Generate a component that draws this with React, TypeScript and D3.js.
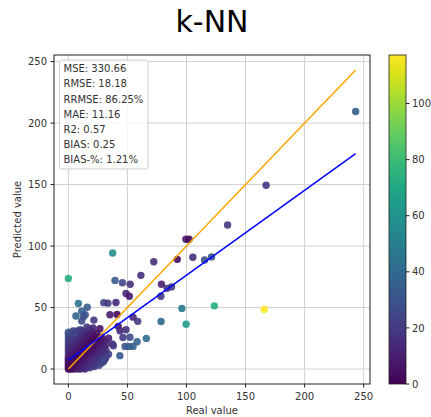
import React from 'react';
import * as d3 from 'd3';

// [real, predicted] – isolated points
const sparsePoints: [number, number][] = [
  [0, 73.6], [37.5, 94.4], [72.3, 87.2], [92.2, 89.2], [99.5, 105.5], [102.2, 105.5],
  [105.4, 90.9], [115.3, 88.7], [121.2, 91.2], [134.8, 117.1], [167.4, 149.4], [243.2, 209.4],
  [165.8, 48.5], [123.6, 51.4], [96.1, 49.3], [99.7, 36.5], [39.5, 72.1], [45.8, 70.2],
  [52.3, 69], [61.4, 76.2], [78.8, 69], [78.3, 59.2], [83.6, 65.6], [87.3, 66.8],
  [48.8, 61.5], [51.6, 59.2], [66, 24.9], [78.5, 38.7], [54.8, 42.2], [58.7, 38.8],
  [30, 54], [33.5, 53.6], [40.3, 54.1], [35.2, 44.2], [41.2, 44.4], [42.2, 34.7],
  [43.7, 31.2], [48.8, 31.9], [37.2, 20.5], [38.1, 18.9], [46.2, 25.7], [52.1, 25.8],
  [43.6, 10.9], [48, 18.4], [51.4, 18.4], [54.8, 18.4], [58.2, 22.2], [8.5, 53.3],
  [16, 50.3], [11.3, 47], [6.4, 43.1], [12.7, 42.5], [14.3, 44.1], [11.3, 39],
  [21.6, 39.8], [15.7, 34.1], [20.9, 33.5], [26.7, 32.8], [28.6, 14.6], [29.7, 5.9],
  [26.9, 16.2], [29.7, 15.2], [31.1, 8.1], [21.4, 6.5],
];

// dense cluster near the origin: [real, list of predicted values]
const clusterColumns: [number, number[]][] = [
  [0, [0, 2, 4, 6, 8, 10, 13, 16, 19, 22, 25, 28, 30]],
  [1, [1, 3, 5, 7, 9, 12, 15, 18, 21, 24, 27]],
  [2, [0, 2, 4, 6, 8, 11, 14, 17, 20, 23, 29]],
  [3, [1, 3, 5, 7, 10, 13, 16, 19, 22]],
  [4, [0, 2, 4, 6, 9, 12, 15, 18, 21, 25, 31]],
  [5, [1, 3, 5, 8, 11, 14, 17, 20, 24, 29]],
  [7, [0, 2, 4, 7, 10, 13, 16, 19, 22, 31]],
  [8, [3, 6, 9, 12, 15, 18, 21, 24]],
  [10, [0, 2, 5, 8, 11, 14, 17, 20, 23, 26, 29, 32]],
  [12, [1, 4, 7, 10, 13, 16, 19, 22, 25, 28, 31]],
  [14, [0, 3, 6, 9, 12, 15, 18, 21, 24, 27, 30]],
  [16, [2, 5, 8, 11, 14, 17, 20, 23, 26, 29]],
  [18, [1, 4, 7, 10, 13, 16, 19, 22, 25, 28, 32]],
  [20, [3, 6, 9, 12, 15, 18, 21, 24, 27, 30]],
  [22, [2, 5, 8, 11, 14, 17, 20, 23, 26]],
  [24, [4, 7, 10, 13, 16, 19, 22, 25, 29]],
  [26, [3, 6, 10, 13, 17, 20, 24]],
  [28, [5, 9, 12, 16, 21, 26]],
  [30, [7, 11, 18, 23]],
  [32, [10, 15, 20]],
  [34, [12, 25]],
];

const xTicks = [0, 50, 100, 150, 200, 250];
const yTicks = [0, 50, 100, 150, 200, 250];
const colorTicks = [0, 20, 40, 60, 80, 100];
const metricLabels = [
  'MSE: 330.66', 'RMSE: 18.18', 'RRMSE: 86.25%', 'MAE: 11.16', 'R2: 0.57', 'BIAS: 0.25', 'BIAS-%: 1.21%',
];
const fitSlope = 0.69;
const fitIntercept = 7.3;
const titleText = 'k-NN';
const xLabel = 'Real value';
const yLabel = 'Predicted value';

const FONT = 'DejaVu Sans, sans-serif';

export default function App() {
  const points: [number, number][] = [
    ...clusterColumns.flatMap(([r, ps]) => ps.map((p) => [r, p] as [number, number])),
    ...sparsePoints,
  ];
  const left = 54, right = 370, top = 55, bottom = 384;
  const realExt = d3.extent(points, (d) => d[0]) as [number, number];
  const span = realExt[1] - realExt[0];
  const dom: [number, number] = [realExt[0] - span * 0.05, realExt[1] + span * 0.05];
  const x = d3.scaleLinear().domain(dom).range([left, right]);
  const y = d3.scaleLinear().domain(dom).range([bottom, top]);
  const errs = points.map((d) => Math.abs(d[1] - d[0]));
  const maxErr = d3.max(errs) as number;
  const color = d3.scaleSequential(d3.interpolateViridis).domain([0, maxErr]);

  const cbLeft = 389, cbRight = 406;
  const cy = d3.scaleLinear().domain([0, maxErr]).range([bottom, top]);
  const stops = d3.range(0, 1.0001, 0.05);

  const lineGen = d3.line<[number, number]>().x((d) => x(d[0])).y((d) => y(d[1]));
  const idLine: [number, number][] = [[realExt[0], realExt[0]], [realExt[1], realExt[1]]];
  const fitLine: [number, number][] = [
    [realExt[0], fitIntercept + fitSlope * realExt[0]],
    [realExt[1], fitIntercept + fitSlope * realExt[1]],
  ];

  return (
    <svg width={431} height={417} style={{ position: 'absolute', left: 0, top: 0, background: '#fff' }}
      fontFamily={FONT}>
      <defs>
        <linearGradient id="vir" x1="0" y1="1" x2="0" y2="0">
          {stops.map((s) => (
            <stop key={s} offset={s} stopColor={d3.interpolateViridis(s)} />
          ))}
        </linearGradient>
        <clipPath id="plotClip">
          <rect x={left} y={top} width={right - left} height={bottom - top} />
        </clipPath>
      </defs>
      <text x={(left + right) / 2} y={32} textAnchor="middle" fontSize={30} fill="#000">{titleText}</text>

      {/* grid */}
      <g stroke="#d0d0d0" strokeWidth={1}>
        {xTicks.map((t) => (
          <line key={'gx' + t} x1={x(t)} x2={x(t)} y1={top} y2={bottom} />
        ))}
        {yTicks.map((t) => (
          <line key={'gy' + t} y1={y(t)} y2={y(t)} x1={left} x2={right} />
        ))}
      </g>

      <g clipPath="url(#plotClip)">
        {points.map((d, i) => (
          <circle key={i} cx={x(d[0])} cy={y(d[1])} r={3.7} fill={color(errs[i])} fillOpacity={0.9} />
        ))}
        <path d={lineGen(idLine) || ''} stroke="orange" strokeWidth={1.5} fill="none" />
        <path d={lineGen(fitLine) || ''} stroke="blue" strokeWidth={1.5} fill="none" />
      </g>

      {/* spines */}
      <rect x={left} y={top} width={right - left} height={bottom - top} fill="none" stroke="#222" strokeWidth={1} />

      {/* x ticks */}
      {xTicks.map((t) => (
        <g key={'xt' + t}>
          <line x1={x(t)} x2={x(t)} y1={bottom} y2={bottom + 3.5} stroke="#222" />
          <text x={x(t)} y={400} textAnchor="middle" fontSize={10} fill="#333">{t}</text>
        </g>
      ))}
      {yTicks.map((t) => (
        <g key={'yt' + t}>
          <line x1={left - 3.5} x2={left} y1={y(t)} y2={y(t)} stroke="#222" />
          <text x={47} y={y(t) + 3.6} textAnchor="end" fontSize={10} fill="#333">{t}</text>
        </g>
      ))}
      <text x={(left + right) / 2} y={414} textAnchor="middle" fontSize={10} fill="#333">{xLabel}</text>
      <text transform={`translate(21,${(top + bottom) / 2}) rotate(-90)`} textAnchor="middle" fontSize={10} fill="#333">{yLabel}</text>

      {/* metrics box */}
      <rect x={59.5} y={60} width={88.5} height={109} rx={2.5} fill="#fff" fillOpacity={0.8} stroke="#cccccc" />
      {metricLabels.map((m, i) => (
        <text key={m} x={63.5} y={72.3 + i * 15.17} fontSize={10} fill="#333">{m}</text>
      ))}

      {/* colorbar */}
      <rect x={cbLeft} y={top} width={cbRight - cbLeft} height={bottom - top} fill="url(#vir)" stroke="#222" strokeWidth={0.8} />
      {colorTicks.map((t) => (
        <g key={'ct' + t}>
          <line x1={cbRight} x2={cbRight + 3.5} y1={cy(t)} y2={cy(t)} stroke="#222" />
          <text x={412} y={cy(t) + 3.6} fontSize={10} fill="#333">{t}</text>
        </g>
      ))}
    </svg>
  );
}
